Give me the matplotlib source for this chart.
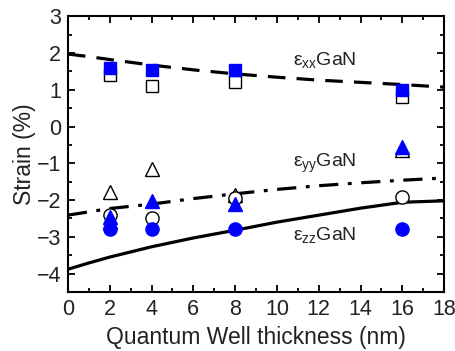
import matplotlib
matplotlib.use("Agg")
import matplotlib.pyplot as plt
from matplotlib.ticker import MultipleLocator

plt.rcParams['font.family'] = ['Liberation Sans', 'DejaVu Sans']
plt.rcParams['mathtext.fontset'] = 'custom'
plt.rcParams['mathtext.rm'] = 'Liberation Sans'
plt.rcParams['mathtext.it'] = 'Liberation Sans'
plt.rcParams['mathtext.bf'] = 'Liberation Sans:bold'

# Measured data
x_pts = [2, 4, 8, 16]
exx_filled = [1.60, 1.53, 1.53, 1.00]
exx_open = [1.40, 1.10, 1.20, 0.80]
eyy_open = [-1.78, -1.15, -1.85, -0.64]
eyy_filled_x = [2, 2, 4, 8, 16]
eyy_filled = [-2.45, -2.60, -2.02, -2.10, -0.56]
ezz_open = [-2.40, -2.49, -1.95, -1.91]
ezz_filled = [-2.80, -2.80, -2.80, -2.80]

# Theory curves
x_th = [0, 1, 2, 4, 6, 8, 10, 12, 14, 16, 18]
exx_th = [1.97, 1.90, 1.82, 1.67, 1.54, 1.43, 1.34, 1.26, 1.20, 1.14, 1.07]
eyy_th = [-2.41, -2.32, -2.23, -2.11, -1.96, -1.83, -1.71, -1.61, -1.53, -1.46, -1.40]
ezz_th = [-3.88, -3.71, -3.55, -3.27, -3.03, -2.82, -2.60, -2.41, -2.22, -2.06, -2.02]

fig = plt.figure(figsize=(4.56, 3.51), dpi=100)
ax = fig.add_axes([0.149, 0.168, 0.825, 0.786])

ax.plot(x_th, exx_th, color='black', lw=2.3, linestyle=(0, (5.5, 3.5)), zorder=2)
ax.plot(x_th, eyy_th, color='black', lw=2.3, linestyle=(0, (6, 3, 1.2, 3)), zorder=2)
ax.plot(x_th, ezz_th, color='black', lw=2.3, linestyle='-', zorder=2)

blue = '#0000ff'
ax.plot(x_pts, exx_open, 's', ms=8.5, mfc='white', mec='black', mew=1.0, ls='none', zorder=3)
ax.plot(x_pts, eyy_open, '^', ms=10, mfc='white', mec='black', mew=1.0, ls='none', zorder=3)
ax.plot(x_pts, ezz_open, 'o', ms=9.5, mfc='white', mec='black', mew=1.0, ls='none', zorder=3)
ax.plot(x_pts, exx_filled, 's', ms=8.5, mfc=blue, mec=blue, mew=1.0, ls='none', zorder=4)
ax.plot(eyy_filled_x, eyy_filled, '^', ms=10, mfc=blue, mec=blue, mew=1.0, ls='none', zorder=4)
ax.plot(x_pts, ezz_filled, 'o', ms=9.5, mfc=blue, mec=blue, mew=1.0, ls='none', zorder=4)

for yv, sub in [(1.8, 'xx'), (-1.0, 'yy'), (-2.95, 'zz')]:
    ax.text(10.75, yv, r'$\varepsilon_{\mathrm{%s}}$GaN' % sub, fontsize=14, va='center',
            ha='left', color='#222222')

ax.set_xlim(0, 18)
ax.set_ylim(-4.5, 3)
ax.xaxis.set_major_locator(MultipleLocator(2))
ax.xaxis.set_minor_locator(MultipleLocator(1))
ax.yaxis.set_major_locator(MultipleLocator(1))
ax.yaxis.set_minor_locator(MultipleLocator(0.5))
ax.tick_params(which='both', direction='in', top=True, right=True, width=1.3, colors='black',
               labelcolor='#222222', labelsize=15.5)
ax.tick_params(which='major', length=5, pad=5)
ax.tick_params(which='minor', length=3)
for s in ax.spines.values():
    s.set_linewidth(1.5)

ax.set_xlabel('Quantum Well thickness (nm)', fontsize=16.5, color='#222222', labelpad=4)
ax.set_ylabel('Strain (%)', fontsize=16.5, color='#222222', labelpad=0)

fig.savefig('out.png', dpi=100)
